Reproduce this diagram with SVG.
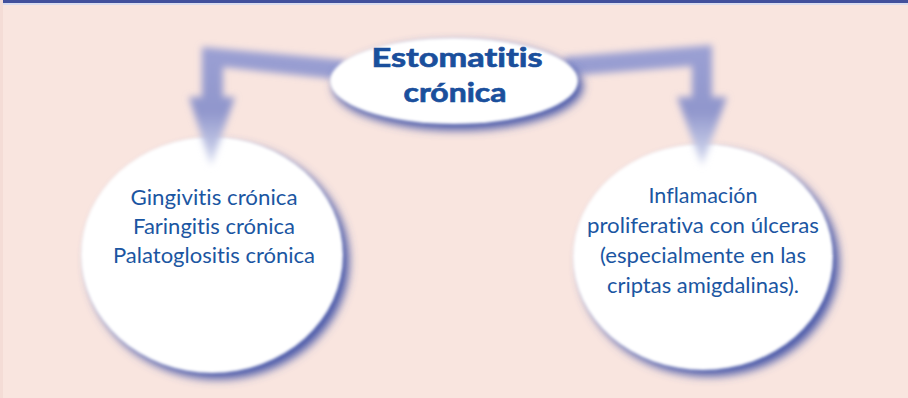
<svg xmlns="http://www.w3.org/2000/svg" width="908" height="398" viewBox="0 0 908 398">
<defs>
<style>
text{font-variant-ligatures:none;font-feature-settings:"liga" 0,"clig" 0}
.lbl{font-family:Lato,"Open Sans","DejaVu Sans",sans-serif;font-size:22px;fill:#1b56a2;text-anchor:middle}
.ttl{font-family:Lato,"Open Sans","DejaVu Sans",sans-serif;font-size:27px;font-weight:bold;fill:#1a4f9c;stroke:#1a4f9c;stroke-width:0.7;text-anchor:middle}
.shadow{fill:#4757a8}
.face{fill:#ffffff}
.arrow{filter:url(#blurA)}
</style>
<filter id="blurS" x="-30%" y="-30%" width="160%" height="160%"><feGaussianBlur stdDeviation="5"/></filter>
<filter id="blurF" x="-10%" y="-10%" width="120%" height="120%"><feGaussianBlur stdDeviation="1.5"/></filter>
<filter id="blurA" x="-20%" y="-20%" width="140%" height="140%"><feGaussianBlur stdDeviation="3.5"/></filter>
<linearGradient id="ag" gradientUnits="userSpaceOnUse" x1="0" y1="40" x2="0" y2="170">
<stop offset="0" stop-color="#9ca1d4"/>
<stop offset="0.55" stop-color="#9096cc"/>
<stop offset="1" stop-color="#e2e7f6"/>
</linearGradient>
</defs>
<rect x="0" y="0" width="908" height="398" fill="#f9e5df"/>
<rect x="0" y="0" width="908" height="3" fill="#42509c"/>
<rect x="0" y="3" width="908" height="2" fill="#d9dcef"/>
<rect x="0" y="0" width="3" height="398" fill="#f4dcd6"/>

<g id="node-left">
<ellipse class="shadow" cx="218" cy="261" rx="131" ry="118" filter="url(#blurS)"/>
<ellipse class="face" cx="212" cy="255" rx="131" ry="118" filter="url(#blurF)"/>
</g>
<g id="node-right">
<ellipse class="shadow" cx="709" cy="263" rx="130" ry="113" filter="url(#blurS)"/>
<ellipse class="face" cx="703" cy="257" rx="130" ry="113" filter="url(#blurF)"/>
</g>

<g id="connectors">
<polygon class="arrow" fill="url(#ag)" points="345,60 202,47 202,97 189,97 211,166 235,97 223,97 223,67 345,80"/>
<polygon class="arrow" fill="url(#ag)" points="565,57 712,45 712,97 727,97 702,166 677,97 692,97 692,66 565,76"/>
</g>

<g id="node-center">
<ellipse class="shadow" cx="458" cy="86" rx="125" ry="44" filter="url(#blurS)"/>
<ellipse class="face" cx="454" cy="81" rx="124" ry="43" filter="url(#blurF)"/>
<text class="ttl" x="457" y="67" textLength="171" lengthAdjust="spacingAndGlyphs">Estomatitis</text>
<text class="ttl" x="455" y="102" textLength="103" lengthAdjust="spacingAndGlyphs">crónica</text>
</g>

<g id="text-left">
<text class="lbl" x="214" y="205" textLength="167" lengthAdjust="spacingAndGlyphs">Gingivitis crónica</text>
<text class="lbl" x="214" y="234" textLength="162" lengthAdjust="spacingAndGlyphs">Faringitis crónica</text>
<text class="lbl" x="214" y="263" textLength="202" lengthAdjust="spacingAndGlyphs">Palatoglositis crónica</text>
</g>
<g id="text-right">
<text class="lbl" x="703" y="203" textLength="109" lengthAdjust="spacingAndGlyphs">Inflamación</text>
<text class="lbl" x="703" y="233" textLength="232" lengthAdjust="spacingAndGlyphs">proliferativa con úlceras</text>
<text class="lbl" x="703" y="263" textLength="206" lengthAdjust="spacingAndGlyphs">(especialmente en las</text>
<text class="lbl" x="703" y="293" textLength="192" lengthAdjust="spacingAndGlyphs">criptas amigdalinas).</text>
</g>
</svg>
